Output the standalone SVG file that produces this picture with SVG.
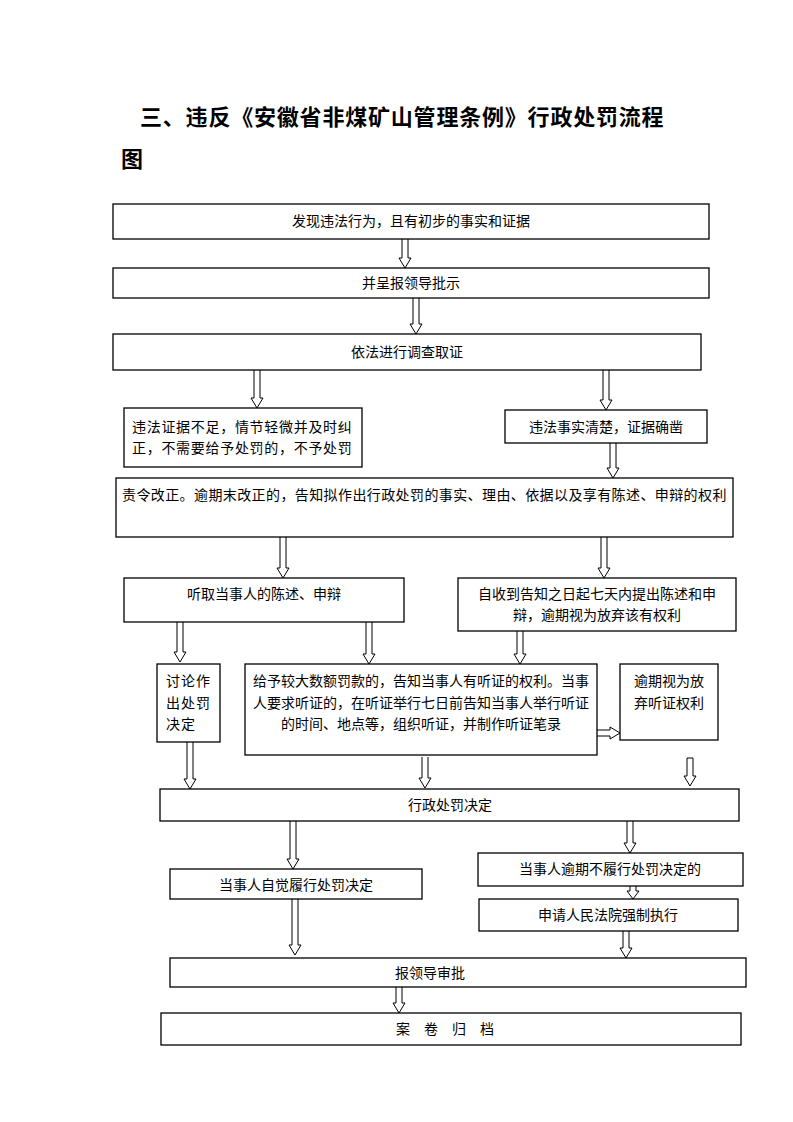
<svg xmlns="http://www.w3.org/2000/svg" width="793" height="1122" viewBox="0 0 793 1122">
<style>
.b{fill:#fff;stroke:#000;stroke-width:1.3}
.t{font-family:"Noto Sans CJK SC",sans-serif;font-size:14px;fill:#000}
.c{text-anchor:middle}
.a{fill:#fff;stroke:#000;stroke-width:1}
.h{font-family:"Noto Sans CJK SC",sans-serif;font-size:22px;font-weight:bold;fill:#000}
</style>
<rect width="793" height="1122" fill="#fff"/>
<text class="h" x="140" y="125" letter-spacing="0.8">三、违反《安徽省非煤矿山管理条例》行政处罚流程</text>
<text class="h" x="121" y="167">图</text>
<g id="connectors">
<path class="a" d="M402,239 V258 H399 L405,268 L411,258 H408 V239"/>
<path class="a" d="M413,298 V324 H410 L416,334 L422,324 H419 V298"/>
<path class="a" d="M254,370 V398 H251 L257,408 L263,398 H260 V370"/>
<path class="a" d="M603,370 V400 H600 L606,410 L612,400 H609 V370"/>
<path class="a" d="M610,443 V468 H607 L613,478 L619,468 H616 V443"/>
<path class="a" d="M280,537 V568 H277 L283,578 L289,568 H286 V537"/>
<path class="a" d="M601,537 V568 H598 L604,578 L610,568 H607 V537"/>
<path class="a" d="M177,622 V652 H174 L180,662 L186,652 H183 V622"/>
<path class="a" d="M366,622 V654 H363 L369,664 L375,654 H372 V622"/>
<path class="a" d="M517,631 V654 H514 L520,664 L526,654 H523 V631"/>
<path class="a" d="M597,730 H610 V727 L620,733 L610,739 V736 H597"/>
<path class="a" d="M187,742 V779 H184 L190,789 L196,779 H193 V742"/>
<path class="a" d="M422,757 V778 H419 L425,788 L431,778 H428 V757"/>
<path class="a" d="M687,758 V776 H684 L690,786 L696,776 H693 V758 Z"/>
<path class="a" d="M290,821 V859 H287 L293,869 L299,859 H296 V821"/>
<path class="a" d="M627,821 V843 H624 L630,853 L636,843 H633 V821"/>
<path class="a" d="M630,886 V891 H627 L633,899 L639,891 H636 V886"/>
<path class="a" d="M292,899 V945 H289 L295,955 L301,945 H298 V899"/>
<path class="a" d="M623,931 V948 H620 L626,958 L632,948 H629 V931"/>
<path class="a" d="M396,987 V1003 H393 L399,1013 L405,1003 H402 V987"/>
</g>
<g id="n1"><rect class="b" x="113" y="204" width="596" height="35"/><text class="t c" x="411" y="226">发现违法行为，且有初步的事实和证据</text></g>
<g id="n2"><rect class="b" x="113" y="268" width="596" height="30"/><text class="t c" x="411" y="288">并呈报领导批示</text></g>
<g id="n3"><rect class="b" x="113" y="334" width="588" height="36"/><text class="t c" x="407" y="357">依法进行调查取证</text></g>
<g id="n4a"><rect class="b" x="124" y="408" width="238" height="59"/><text class="t" x="132" y="432" letter-spacing="0.7">违法证据不足，情节轻微并及时纠</text><text class="t" x="132" y="453" letter-spacing="0.7">正，不需要给予处罚的，不予处罚</text></g>
<g id="n4b"><rect class="b" x="505" y="410" width="202" height="33"/><text class="t c" x="606" y="432">违法事实清楚，证据确凿</text></g>
<g id="n5"><rect class="b" x="116" y="478" width="617" height="59"/><text class="t" x="122" y="500" letter-spacing="0.4">责令改正。逾期末改正的，告知拟作出行政处罚的事实、理由、依据以及享有陈述、申辩的权利</text></g>
<g id="n6a"><rect class="b" x="124" y="578" width="280" height="44"/><text class="t c" x="264" y="599">听取当事人的陈述、申辩</text></g>
<g id="n6b"><rect class="b" x="458" y="578" width="278" height="53"/><text class="t c" x="597" y="599">自收到告知之日起七天内提出陈述和申</text><text class="t c" x="597" y="620">辩，逾期视为放弃该有权利</text></g>
<g id="n7a"><rect class="b" x="157" y="664" width="63" height="78"/><text class="t" x="166" y="686" letter-spacing="1">讨论作</text><text class="t" x="166" y="708" letter-spacing="1">出处罚</text><text class="t" x="166" y="729" letter-spacing="1">决定</text></g>
<g id="n7b"><rect class="b" x="245" y="664" width="352" height="91"/><text class="t c" x="421" y="686">给予较大数额罚款的，告知当事人有听证的权利。当事</text><text class="t c" x="421" y="708">人要求听证的，在听证举行七日前告知当事人举行听证</text><text class="t c" x="421" y="729">的时间、地点等，组织听证，并制作听证笔录</text></g>
<g id="n7c"><rect class="b" x="620" y="664" width="98" height="76"/><text class="t c" x="669" y="686">逾期视为放</text><text class="t c" x="669" y="708">弃听证权利</text></g>
<g id="n8"><rect class="b" x="160" y="789" width="579" height="32"/><text class="t c" x="450" y="810">行政处罚决定</text></g>
<g id="n9a"><rect class="b" x="170" y="869" width="252" height="30"/><text class="t c" x="296" y="890">当事人自觉履行处罚决定</text></g>
<g id="n9b"><rect class="b" x="478" y="853" width="265" height="33"/><text class="t c" x="610" y="874">当事人逾期不履行处罚决定的</text></g>
<g id="n10"><rect class="b" x="479" y="899" width="259" height="32"/><text class="t c" x="608" y="920">申请人民法院强制执行</text></g>
<g id="n11"><rect class="b" x="170" y="958" width="576" height="29"/><text class="t c" x="430" y="978">报领导审批</text></g>
<g id="n12"><rect class="b" x="161" y="1013" width="580" height="32"/><text class="t c" x="445" y="1034">案　卷　归　档</text></g>
</svg>
